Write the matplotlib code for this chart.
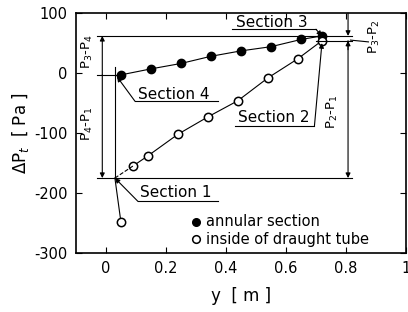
import matplotlib
matplotlib.use("Agg")
import matplotlib.pyplot as plt

plt.rcParams["font.family"] = ["DejaVu Sans"]
plt.rcParams["axes.unicode_minus"] = False

# annular section (filled) and inside of draught tube (open)
y_annular = [0.05, 0.15, 0.25, 0.35, 0.45, 0.55, 0.65, 0.72]
dp_annular = [-3, 7, 16, 28, 37, 44, 56, 62]
y_tube = [0.09, 0.14, 0.24, 0.34, 0.44, 0.54, 0.64, 0.72]
dp_tube = [-155, -138, -102, -73, -46, -8, 24, 54]
y_bottom, dp_bottom = 0.05, -248
# section 1 point (P1)
y_p1, dp_p1 = 0.03, -175

P1 = dp_p1
P2 = dp_tube[-1]
P3 = dp_annular[-1]
P4 = dp_annular[0]

fig = plt.figure(figsize=(4.08, 3.12), dpi=100)
ax = fig.add_axes([0.186, 0.189, 0.809, 0.769])

lw = 0.8
ax.plot(y_annular, dp_annular, "-o", color="black", lw=lw, ms=6, mfc="black")
ax.plot(y_tube, dp_tube, "-o", color="black", lw=lw, ms=6, mfc="white", mew=1.1)
ax.plot([y_bottom, y_p1], [dp_bottom, dp_p1], "-", color="black", lw=lw)
ax.plot([y_p1, y_tube[0]], [dp_p1, dp_tube[0]], "--", color="black", lw=lw)
ax.plot([y_bottom], [dp_bottom], "o", color="black", ms=6, mfc="white", mew=1.1)

# level lines
kw = dict(color="black", lw=lw)
ax.plot([-0.03, 0.82], [P3, P3], **kw)
ax.plot([-0.03, 0.82], [P1, P1], **kw)
ax.plot([-0.03, 0.05], [P4, P4], **kw)
ax.plot([0.70, 0.82], [P2, P2], **kw)
ax.plot([y_p1, y_p1], [10, P1], **kw)

arr = dict(arrowstyle="-|>", color="black", lw=lw, mutation_scale=7, shrinkA=0, shrinkB=0)
xl = -0.012
ax.annotate("", xy=(xl, P3), xytext=(xl, P4), arrowprops=arr)
ax.annotate("", xy=(xl, P1), xytext=(xl, P4), arrowprops=arr)
xr = 0.807
ax.annotate("", xy=(xr, P3), xytext=(xr, 100), arrowprops=arr)
ax.annotate("", xy=(xr, P2), xytext=(xr, P2 - 15), arrowprops=arr)
ax.annotate("", xy=(xr, P1), xytext=(xr, P2), arrowprops=arr)

# section leaders
fs = 11
def section(label, tx, ty, ux0, ux1, uy, target):
    ax.text(tx, ty, label, fontsize=fs, ha="left", va="center")
    ax.plot([ux0, ux1], [uy, uy], **kw)
    start = (ux0, uy) if target[0] < ux0 else (ux1, uy)
    ax.annotate("", xy=target, xytext=start, arrowprops=arr)

section("Section 4", 0.107, -36, 0.097, 0.375, -47, (0.037, -6))
section("Section 1", 0.113, -199, 0.107, 0.372, -214, (y_p1, P1))
section("Section 2", 0.44, -74, 0.43, 0.695, -88, (y_tube[-1], P2 - 4))
section("Section 3", 0.435, 85, 0.42, 0.70, 73, (y_annular[-1], P3))

ax.text(-0.06, 35, "P$_3$-P$_4$", rotation=90, fontsize=9.5, ha="center", va="center")
ax.text(-0.06, -85, "P$_4$-P$_1$", rotation=90, fontsize=9.5, ha="center", va="center")
ax.text(0.755, -65, "P$_2$-P$_1$", rotation=90, fontsize=9.5, ha="center", va="center")
ax.text(0.895, 60, "P$_3$-P$_2$", rotation=90, fontsize=9.5, ha="center", va="center")
ax.plot([0.815, 0.875], [P2 + 1, P2 - 2], **kw)

# legend
ax.plot([0.30], [-248], "o", color="black", ms=5.5, mfc="black")
ax.plot([0.30], [-277], "o", color="black", ms=5.5, mfc="white", mew=1.1)
ax.text(0.335, -248, "annular section", fontsize=10.5, va="center")
ax.text(0.335, -277, "inside of draught tube", fontsize=10.5, va="center")

ax.set_xlim(-0.1, 1.0)
ax.set_ylim(-300, 100)
ax.set_xticks([0, 0.2, 0.4, 0.6, 0.8, 1.0])
ax.set_xticklabels(["0", "0.2", "0.4", "0.6", "0.8", "1"])
ax.set_yticks([100, 0, -100, -200, -300])
ax.tick_params(direction="in", top=True, right=True, labelsize=10.5, length=4,
               width=lw, pad=6)
for s in ax.spines.values():
    s.set_linewidth(1.2)
ax.set_xlabel("y  [ m ]", fontsize=12, labelpad=8)
ax.set_ylabel("ΔP$_t$  [ Pa ]", fontsize=12, labelpad=2)

fig.savefig("out.png", dpi=100)
